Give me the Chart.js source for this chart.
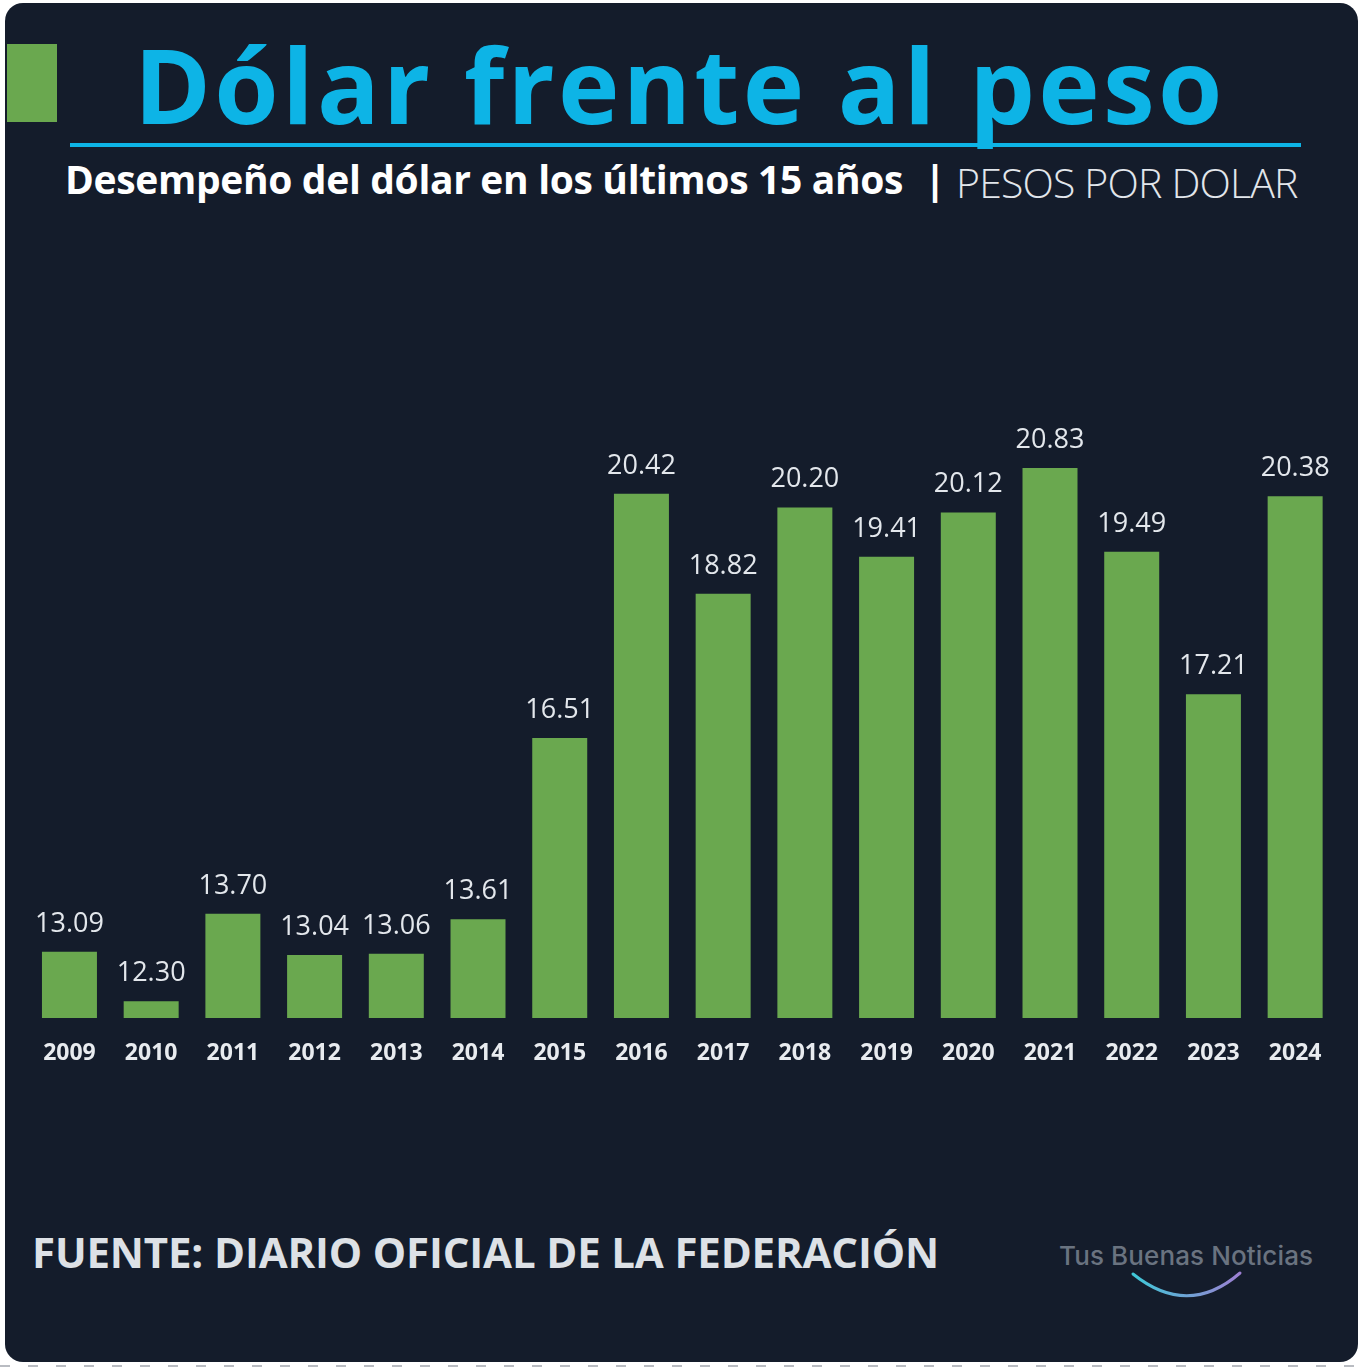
<!DOCTYPE html>
<html>
<head>
<meta charset="utf-8">
<script src="https://cdn.jsdelivr.net/npm/chart.js@4.4.1/dist/chart.umd.min.js"></script>
<style>
  html, body { margin: 0; padding: 0; background: #ffffff; }
  body { width: 1364px; height: 1368px; position: relative; overflow: hidden; }
  #panel {
    position: absolute; left: 5px; top: 3px; width: 1353px; height: 1359px;
    background: #141c2b; border-radius: 18px;
  }
  #dots {
    position: absolute; left: 0; top: 1365px; width: 1364px; height: 2px;
    background: repeating-linear-gradient(90deg, #b9bcc2 0 10px, transparent 10px 28px);
  }
  .txt { position: absolute; white-space: nowrap; margin: 0; }
  #greenBox { position: absolute; left: 7px; top: 44px; width: 50px; height: 78px; background: #6aa84f; }
  #rule { position: absolute; left: 70px; top: 143px; width: 1231px; height: 4px; background: #0db4e6; }
  #chartWrap { position: absolute; left: 0; top: 380px; width: 1364px; height: 688px; }
  #smile { position: absolute; left: 0; top: 0; }
</style>
</head>
<body>
<div id="panel"></div>
<div id="dots"></div>
<div id="greenBox"></div>
<div id="rule"></div>
<span class="txt" id="title" style="color:#0db4e6"></span>
<span class="txt" id="sub1" style="color:#ffffff"></span>
<span class="txt" id="sub2" style="color:#ffffff"></span>
<span class="txt" id="sub3" style="color:#e2e6eb"></span>
<span class="txt" id="source" style="color:#dde1e6"></span>
<span class="txt" id="logo" style="color:#6a7380"></span>
<svg id="smile" width="1364" height="1368">
  <defs>
    <linearGradient id="sg" x1="1133" y1="0" x2="1240" y2="0" gradientUnits="userSpaceOnUse">
      <stop offset="0" stop-color="#3fc8d8"/>
      <stop offset="1" stop-color="#9d7fd2"/>
    </linearGradient>
  </defs>
  <path d="M1133 1274 Q1188 1318 1240 1273" fill="none" stroke="url(#sg)" stroke-width="3" stroke-linecap="round"/>
</svg>
<div id="chartWrap"><canvas id="barChart" width="1364" height="688"></canvas></div>

<script>
// data
const years = ['2009', '2010', '2011', '2012', '2013', '2014', '2015', '2016',
               '2017', '2018', '2019', '2020', '2021', '2022', '2023', '2024'];
const pesosPorDolar = [13.09, 12.30, 13.70, 13.04, 13.06, 13.61, 16.51, 20.42,
                       18.82, 20.20, 19.41, 20.12, 20.83, 19.49, 17.21, 20.38];
const axisMin = 12.03;
const axisMax = 22.24;

const titleText = 'Dólar frente al peso';
const subtitleText = 'Desempeño del dólar en los últimos 15 años';
const unitText = 'PESOS POR DOLAR';
const sourceText = 'FUENTE: DIARIO OFICIAL DE LA FEDERACIÓN';
const logoText = 'Tus Buenas Noticias';

// place a text span so its ink runs from inkL to inkR on the given baseline
const mctx = document.createElement('canvas').getContext('2d');
function place(id, text, font, inkL, inkR, baseline) {
  const el = document.getElementById(id);
  el.textContent = text;
  el.style.font = font;
  mctx.font = font;
  const m = mctx.measureText(text);
  const inkW = m.actualBoundingBoxLeft + m.actualBoundingBoxRight;
  const n = [...text].length;
  const ls = (inkR != null && n > 1) ? (inkR - inkL - inkW) / (n - 1) : 0;
  el.style.letterSpacing = ls + 'px';
  const asc = m.fontBoundingBoxAscent, desc = m.fontBoundingBoxDescent;
  el.style.lineHeight = (asc + desc) + 'px';
  el.style.left = (inkL + m.actualBoundingBoxLeft) + 'px';
  el.style.top = (baseline - asc) + 'px';
}

place('title', titleText, "700 104px 'Open Sans'", 143, 1218, 124);
place('sub1', subtitleText, "700 39px 'Open Sans'", 68, 902, 194);
place('sub2', '|', "700 40px 'Open Sans'", 932, null, 194);
place('sub3', unitText, "300 41px 'Open Sans'", 960, 1298, 198);
place('source', sourceText, "700 42px 'Open Sans'", 35, 936, 1268);
place('logo', logoText, "500 26px 'Inter'", 1060, 1312, 1265);

// value labels above each bar
const valueLabelPlugin = {
  id: 'valueLabels',
  afterDatasetsDraw(chart) {
    const ctx = chart.ctx;
    const meta = chart.getDatasetMeta(0);
    ctx.save();
    ctx.font = "400 27px 'Open Sans'";
    ctx.fillStyle = '#e3e7ec';
    ctx.textAlign = 'center';
    ctx.textBaseline = 'alphabetic';
    meta.data.forEach((bar, i) => {
      ctx.fillText(pesosPorDolar[i].toFixed(2), bar.x, bar.y - 20);
    });
    ctx.restore();
  }
};

new Chart(document.getElementById('barChart'), {
  type: 'bar',
  data: {
    labels: years,
    datasets: [{
      data: pesosPorDolar,
      backgroundColor: '#6aa84f',
      borderWidth: 0,
      barPercentage: 0.673,
      categoryPercentage: 1.0
    }]
  },
  options: {
    responsive: false,
    animation: false,
    devicePixelRatio: 1,
    layout: { padding: { left: 28.6, right: 28, top: 0, bottom: 0 } },
    plugins: {
      legend: { display: false },
      title: { display: false },
      tooltip: { enabled: false }
    },
    scales: {
      x: {
        grid: { display: false, drawTicks: false },
        border: { display: false },
        ticks: {
          color: '#e8ebef',
          font: { family: "'Open Sans'", size: 23, weight: '700' },
          padding: 22,
          maxRotation: 0,
          autoSkip: false
        },
        afterFit(scale) { scale.height = 50; }
      },
      y: {
        display: false,
        min: axisMin,
        max: axisMax
      }
    }
  },
  plugins: [valueLabelPlugin]
});
</script>
</body>
</html>
